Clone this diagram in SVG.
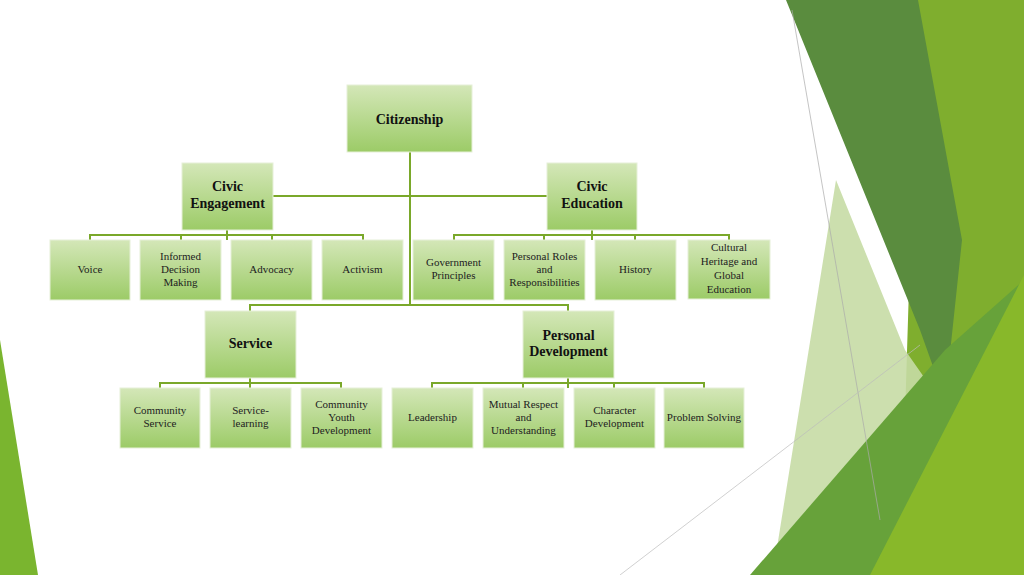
<svg xmlns="http://www.w3.org/2000/svg" width="1024" height="575" viewBox="0 0 1024 575">
<defs>
<linearGradient id="g" x1="0" y1="0" x2="0" y2="1"><stop offset="0" stop-color="#d4e7b8"/><stop offset="1" stop-color="#9ccb67"/></linearGradient>
<style>
.n{fill:url(#g);stroke:#e6f0d8;stroke-width:1}
.t{font-family:"Liberation Serif",serif;font-size:11px;fill:#222;text-anchor:middle}
.b{font-family:"Liberation Serif",serif;font-size:14px;font-weight:bold;fill:#111;text-anchor:middle}
.c{fill:none;stroke:#7aa82a;stroke-width:2}
</style>
</defs>
<rect width="1024" height="575" fill="#fff"/>
<g id="background">
<polygon points="0,340 38,575 0,575" fill="#7ab52f"/>
<polygon points="918,0 1024,0 1024,575 900,575" fill="#7fae2e"/>
<polygon points="786,0 918,0 962,240 945,400 920,330" fill="#5a8c3e"/>
<polygon points="836,180 905,350 940,400 870,470 775,560" fill="#c7dba5" opacity="0.9"/>
<polygon points="750,575 945,350 1024,280 1024,575" fill="#67a23a"/>
<polygon points="870,575 1024,275 1024,575" fill="#88b82a"/>
<line x1="792" y1="10" x2="880" y2="520" stroke="#aaa" stroke-width="0.7"/>
<line x1="620" y1="575" x2="920" y2="345" stroke="#bbb" stroke-width="0.7"/>
</g>
<g id="connectors">
<path class="c" d="M410,152V305M273,196H547M90,240V235H363V240M227,230V240M181,235V240M272,235V240M454,240V235H729V240M592,230V240M544,235V240M635,235V240M250,311V305H568V311M160,388V383H341V388M250,378V388M432,388V383H704V388M568,378V388M523,383V388M614,383V388"/>
</g>
<g id="citizenship"><rect class="n" x="347" y="85" width="125" height="67"/><text class="b" x="409.5" y="124" font-size="18">Citizenship</text></g>
<g id="civic-engagement"><rect class="n" x="182" y="163" width="91" height="67"/><text class="b" x="227.5" y="191">Civic</text><text class="b" x="227.5" y="208">Engagement</text></g>
<g id="civic-education"><rect class="n" x="547" y="163" width="90" height="67"/><text class="b" x="592" y="191">Civic</text><text class="b" x="592" y="208">Education</text></g>
<g id="voice"><rect class="n" x="50" y="240" width="80" height="60"/><text class="t" x="90" y="273">Voice</text></g>
<g id="informed"><rect class="n" x="140" y="240" width="81" height="60"/><text class="t" x="180.5" y="260">Informed</text><text class="t" x="180.5" y="273">Decision</text><text class="t" x="180.5" y="286">Making</text></g>
<g id="advocacy"><rect class="n" x="231" y="240" width="81" height="60"/><text class="t" x="271.5" y="273">Advocacy</text></g>
<g id="activism"><rect class="n" x="322" y="240" width="81" height="60"/><text class="t" x="362.5" y="273">Activism</text></g>
<g id="government"><rect class="n" x="413" y="240" width="81" height="60"/><text class="t" x="453.5" y="266">Government</text><text class="t" x="453.5" y="279">Principles</text></g>
<g id="roles"><rect class="n" x="504" y="240" width="81" height="60"/><text class="t" x="544.5" y="260">Personal Roles</text><text class="t" x="544.5" y="273">and</text><text class="t" x="544.5" y="286">Responsibilities</text></g>
<g id="history"><rect class="n" x="595" y="240" width="81" height="60"/><text class="t" x="635.5" y="273">History</text></g>
<g id="cultural"><rect class="n" x="688" y="240" width="82" height="59"/><text class="t" x="729" y="251">Cultural</text><text class="t" x="729" y="265">Heritage and</text><text class="t" x="729" y="279">Global</text><text class="t" x="729" y="293">Education</text></g>
<g id="service"><rect class="n" x="205" y="311" width="91" height="67"/><text class="b" x="250.5" y="348">Service</text></g>
<g id="personal-development"><rect class="n" x="523" y="311" width="91" height="67"/><text class="b" x="568.5" y="340">Personal</text><text class="b" x="568.5" y="356">Development</text></g>
<g id="community-service"><rect class="n" x="120" y="388" width="80" height="60"/><text class="t" x="160" y="414">Community</text><text class="t" x="160" y="427">Service</text></g>
<g id="service-learning"><rect class="n" x="210" y="388" width="81" height="60"/><text class="t" x="250.5" y="414">Service-</text><text class="t" x="250.5" y="427">learning</text></g>
<g id="youth"><rect class="n" x="301" y="388" width="81" height="60"/><text class="t" x="341.5" y="408">Community</text><text class="t" x="341.5" y="421">Youth</text><text class="t" x="341.5" y="434">Development</text></g>
<g id="leadership"><rect class="n" x="392" y="388" width="81" height="60"/><text class="t" x="432.5" y="421">Leadership</text></g>
<g id="mutual"><rect class="n" x="483" y="388" width="81" height="60"/><text class="t" x="523.5" y="408">Mutual Respect</text><text class="t" x="523.5" y="421">and</text><text class="t" x="523.5" y="434">Understanding</text></g>
<g id="character"><rect class="n" x="574" y="388" width="81" height="60"/><text class="t" x="614.5" y="414">Character</text><text class="t" x="614.5" y="427">Development</text></g>
<g id="problem"><rect class="n" x="664" y="388" width="80" height="60"/><text class="t" x="704" y="421">Problem Solving</text></g>
</svg>
